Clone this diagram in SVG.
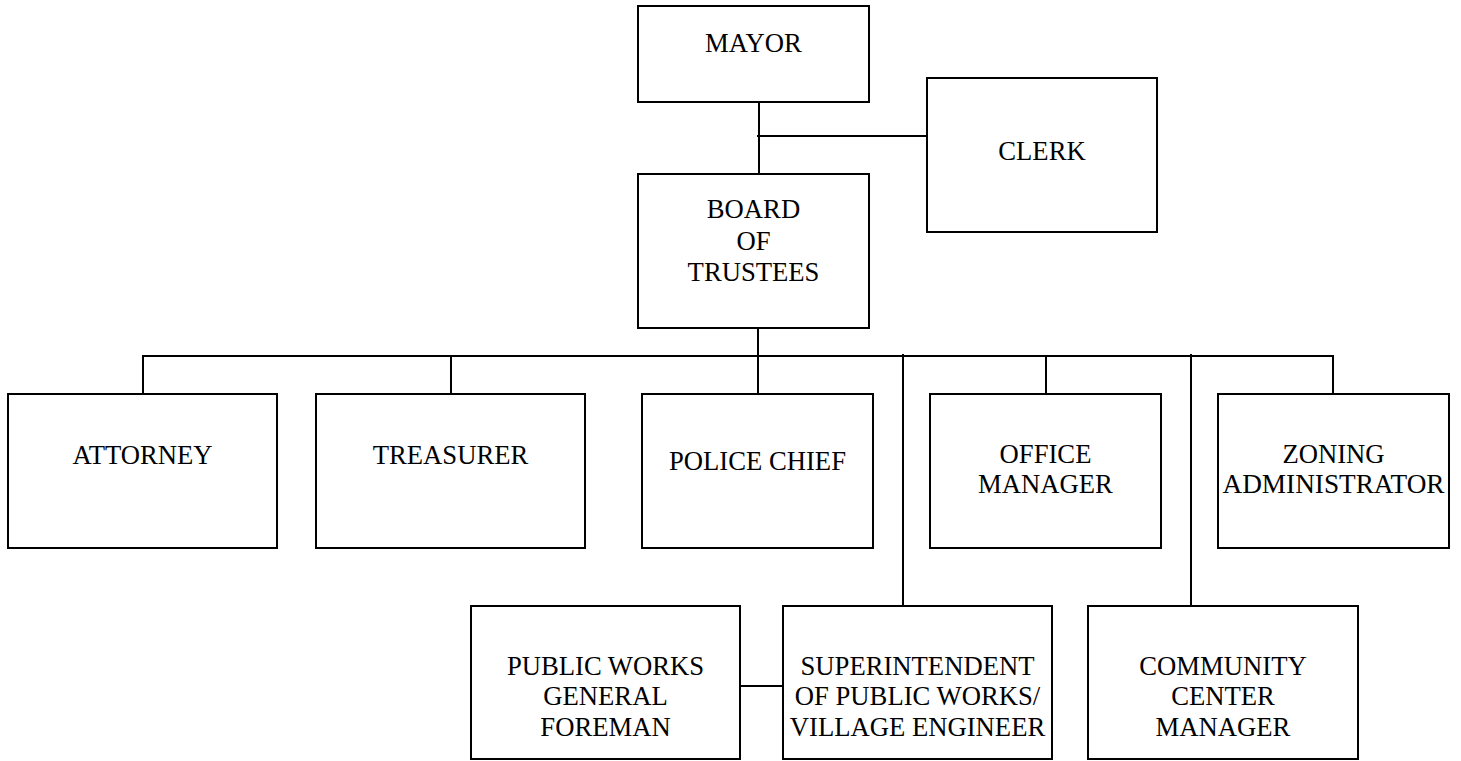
<svg xmlns="http://www.w3.org/2000/svg" width="1461" height="761" viewBox="0 0 1461 761">
<style>
rect.box{fill:#fff;stroke:#000;stroke-width:2}
#connectors line{stroke:#000;stroke-width:2}
text{font-family:"Liberation Serif","Times New Roman",serif;font-size:26.67px;fill:#000;text-anchor:middle}
</style>
<rect width="1461" height="761" fill="#fff"/>
<g id="connectors">
<line x1="759" y1="102" x2="759" y2="174"/>
<line x1="757" y1="136" x2="928" y2="136"/>
<line x1="758" y1="328" x2="758" y2="394"/>
<line x1="142" y1="356" x2="1334" y2="356"/>
<line x1="143" y1="356" x2="143" y2="394"/>
<line x1="451" y1="356" x2="451" y2="394"/>
<line x1="1046" y1="356" x2="1046" y2="394"/>
<line x1="1333" y1="355" x2="1333" y2="394"/>
<line x1="903" y1="354" x2="903" y2="606"/>
<line x1="1191" y1="354" x2="1191" y2="606"/>
<line x1="740" y1="686" x2="783" y2="686"/>
</g>
<g id="mayor"><rect class="box" x="638" y="6" width="231" height="96"/><text x="753.5" y="52">MAYOR</text></g>
<g id="clerk"><rect class="box" x="927" y="78" width="230" height="154"/><text x="1042" y="160">CLERK</text></g>
<g id="board"><rect class="box" x="638" y="174" width="231" height="154"/><text x="753.5" y="218">BOARD</text><text x="753.5" y="249.5">OF</text><text x="753.5" y="281">TRUSTEES</text></g>
<g id="attorney"><rect class="box" x="8" y="394" width="269" height="154"/><text x="142.5" y="464">ATTORNEY</text></g>
<g id="treasurer"><rect class="box" x="316" y="394" width="269" height="154"/><text x="450.5" y="464">TREASURER</text></g>
<g id="police-chief"><rect class="box" x="642" y="394" width="231" height="154"/><text x="757.5" y="470">POLICE CHIEF</text></g>
<g id="office-manager"><rect class="box" x="930" y="394" width="231" height="154"/><text x="1045.5" y="463">OFFICE</text><text x="1045.5" y="493">MANAGER</text></g>
<g id="zoning-administrator"><rect class="box" x="1218" y="394" width="231" height="154"/><text x="1333.5" y="463">ZONING</text><text x="1333.5" y="493" textLength="222" lengthAdjust="spacingAndGlyphs">ADMINISTRATOR</text></g>
<g id="public-works-foreman"><rect class="box" x="471" y="606" width="269" height="153"/><text x="605.5" y="675">PUBLIC WORKS</text><text x="605.5" y="705">GENERAL</text><text x="605.5" y="736">FOREMAN</text></g>
<g id="superintendent"><rect class="box" x="783" y="606" width="269" height="153"/><text x="917.5" y="675">SUPERINTENDENT</text><text x="917.5" y="705">OF PUBLIC WORKS/</text><text x="917.5" y="736">VILLAGE ENGINEER</text></g>
<g id="community-center-manager"><rect class="box" x="1088" y="606" width="270" height="153"/><text x="1223" y="675">COMMUNITY</text><text x="1223" y="705">CENTER</text><text x="1223" y="736">MANAGER</text></g>
</svg>
